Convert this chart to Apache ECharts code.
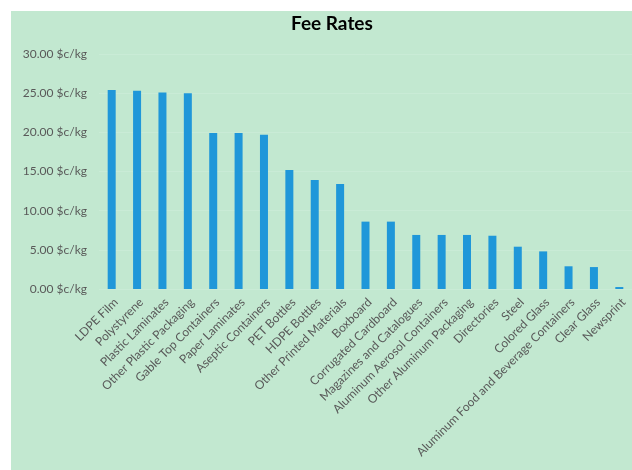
<!DOCTYPE html>
<html>
<head>
<meta charset="utf-8">
<script src="https://cdn.jsdelivr.net/npm/echarts@6/dist/echarts.min.js"></script>
<style>
  html, body { margin: 0; padding: 0; background: #ffffff; }
  #chart { position: absolute; left: 11px; top: 11px; width: 621px; height: 459px; }
</style>
</head>
<body>
<div id="chart"></div>
<script>
// Material categories, in descending order of fee rate
const categories = [
  'LDPE Film', 'Polystyrene', 'Plastic Laminates', 'Other Plastic Packaging',
  'Gable Top Containers', 'Paper Laminates', 'Aseptic Containers', 'PET Bottles',
  'HDPE Bottles', 'Other Printed Materials', 'Boxboard', 'Corrugated Cardboard',
  'Magazines and Catalogues', 'Aluminum Aerosol Containers', 'Other Aluminum Packaging',
  'Directories', 'Steel', 'Colored Glass', 'Aluminum Food and Beverage Containers',
  'Clear Glass', 'Newsprint'
];

// Fee rate per material, cents per kilogram
const feeRates = [
  25.4, 25.3, 25.1, 25.0,
  19.9, 19.9, 19.7, 15.2,
  13.9, 13.4, 8.6, 8.6,
  6.9, 6.9, 6.9,
  6.8, 5.4, 4.8, 2.9,
  2.8, 0.25
];

// Value axis ticks
const yMin = 0;
const yMax = 30;
const yStep = 5;

const chart = echarts.init(document.getElementById('chart'), null, { renderer: 'canvas' });

const textColor = '#595959';
const fontFamily = 'Lato, "Liberation Sans", sans-serif';

chart.setOption({
  backgroundColor: '#c2e8d0',
  animation: false,
  title: {
    text: 'Fee Rates',
    left: 280,
    top: 3,
    padding: 0,
    textStyle: { fontFamily: fontFamily, fontSize: 19, fontWeight: 'bold', color: '#000000' }
  },
  grid: { left: 88, top: 43, width: 542, height: 235, containLabel: false },
  xAxis: {
    type: 'category',
    data: categories,
    axisLine: { show: false },
    axisTick: { show: false },
    axisLabel: {
      interval: 0,
      rotate: 45,
      margin: 7,
      verticalAlign: 'top',
      color: textColor,
      fontFamily: fontFamily,
      fontSize: 12
    }
  },
  yAxis: {
    type: 'value',
    min: yMin,
    max: yMax,
    interval: yStep,
    axisLine: { show: false },
    axisTick: { show: false },
    splitLine: { show: true, lineStyle: { color: '#c9ebd6', width: 1 } },
    axisLabel: {
      margin: 12,
      color: textColor,
      fontFamily: fontFamily,
      fontSize: 12,
      formatter: v => v.toFixed(2) + ' $c/kg'
    }
  },
  series: [{
    type: 'bar',
    data: feeRates,
    barWidth: 8,
    itemStyle: { color: '#1f97d9' }
  }]
});
</script>
</body>
</html>
